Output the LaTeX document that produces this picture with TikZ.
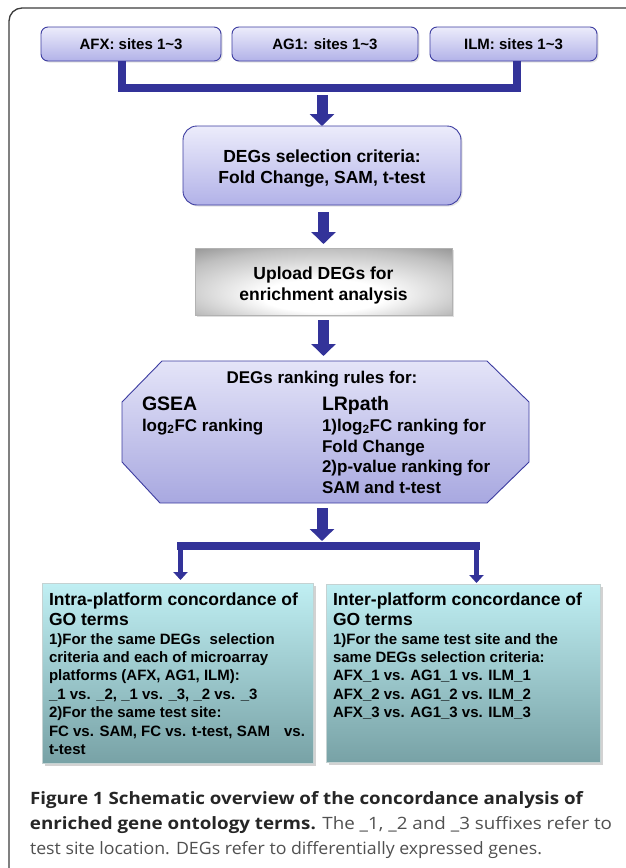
\documentclass[tikz,border=0pt]{standalone}
\usepackage{fontspec}
\usepackage{graphicx}
\setmainfont{Liberation Sans}
\newfontfamily\capfont{Open Sans}
\usetikzlibrary{arrows.meta,shadows,calc}
\definecolor{arr}{RGB}{51,51,153}
\definecolor{lavT}{RGB}{236,236,251}
\definecolor{lavB}{RGB}{178,178,232}
\definecolor{lavD}{RGB}{60,60,160}
\definecolor{octT}{RGB}{228,228,248}
\definecolor{octB}{RGB}{168,168,224}
\definecolor{cyT}{RGB}{192,239,243}
\definecolor{cyB}{RGB}{120,162,166}
\definecolor{cyD}{RGB}{196,210,210}
\definecolor{capB}{RGB}{38,38,38}
\definecolor{capR}{RGB}{80,80,80}
\definecolor{frame}{RGB}{60,60,60}
\pgfdeclareradialshading{bevel}{\pgfpoint{0bp}{-14bp}}{color(0bp)=(white); color(12bp)=(white); color(30bp)=(gray!50); color(50bp)=(black!65)}
\newcommand\fsz[2]{\fontsize{#1}{#2}\selectfont}
\tikzset{
  box/.style={draw=lavD, line width=0.9pt, top color=lavT, bottom color=lavB,
    drop shadow={opacity=0.22, shadow xshift=1.5pt, shadow yshift=-1.5pt}},
  topbox/.style={box, rounded corners=7pt, minimum height=34pt, font=\fsz{15}{18}\bfseries},
  lbl/.style={font=\fsz{17.5}{20.6}\bfseries, align=center},
  greybox/.style={draw=gray!60, line width=0.6pt, shading=bevel,
    drop shadow={opacity=0.25, shadow xshift=1.5pt, shadow yshift=-1.5pt}},
  cyanbox/.style={draw=cyD, line width=0.8pt, top color=cyT, bottom color=cyB,
    drop shadow={opacity=0.35, shadow xshift=2.5pt, shadow yshift=-2.5pt}},
  octtxt/.style={font=\fsz{17}{20}\bfseries, anchor=base west},
  head/.style={font=\fsz{17.5}{20}\bfseries, anchor=base west},
  body/.style={font=\fsz{15}{18}\bfseries, anchor=base west},
  captxt/.style={anchor=base west, font=\capfont\fsz{17}{20}},
  bar/.style={draw=arr, line width=8pt, line cap=butt, line join=miter},
  bigarrow/.style={draw=arr, line width=11pt, -{Triangle[width=24pt,length=12pt]}},
  thinarrow/.style={draw=arr, line width=5.5pt, -{Triangle[width=14pt,length=8pt]}},
}
\begin{document}
\begin{tikzpicture}[x=1pt,y=-1pt, every node/.style={inner sep=0pt, outer sep=0pt}]
\useasboundingbox (0,0) rectangle (625,868);
\fill[white] (0,0) rectangle (625,868);
\draw[line width=1.3pt, draw=frame, rounded corners=13pt] (9,900) -- (9,8) -- (660,8);

% top boxes
\node[topbox, minimum width=180pt] (afx) at (131,44) {AFX: sites 1\textasciitilde3};
\node[topbox, minimum width=186pt] (ag1) at (325,44) {AG1: sites 1\textasciitilde3};
\node[topbox, minimum width=167pt] (ilm) at (513.5,44) {ILM: sites 1\textasciitilde3};

\coordinate (hl) at (122,88);
\coordinate (hr) at (517,88);
\coordinate (hm) at (322,95);
\draw[bar] (afx.south -| hl) -- (hl) -- (hr) -- (ilm.south -| hr);

% DEGs selection
\node[box, rounded corners=14pt, minimum width=278pt, minimum height=79pt] (degs) at (322,165.5) {};
\node[lbl] (degst) at ([yshift=-3pt]degs.center) {DEGs selection criteria:\\Fold Change, SAM, t-test};
\draw[bigarrow] (hm) -- (degs.north);

% Upload
\node[greybox, minimum width=257pt, minimum height=67pt] (upload) at (323.5,281.5) {};
\node[lbl, font=\fsz{17.5}{21}\bfseries] (uploadt) at ([yshift=-3.5pt]upload.center) {Upload DEGs for\\enrichment analysis};
\draw[bigarrow, shorten <=7pt, shorten >=4pt] (degs.south -| upload.north) -- (upload.north);

% Octagon
\node[minimum width=407pt, minimum height=142pt] (oct) at (325.5,432) {};
\shadedraw[draw=lavD, line width=0.9pt, top color=octT, bottom color=octB]
  (162,361) -- (487,361) -- (529,402) -- (529,462) -- (487,503) -- (160,503) -- (122,462) -- (122,402) -- cycle;
\draw[bigarrow, shorten <=5pt, shorten >=5pt] (upload.south) -- (upload.south |- oct.north);
\node[font=\fsz{17}{20}\bfseries, anchor=base] (rank) at (322,383) {DEGs ranking rules for:};
\node[octtxt, font=\fsz{19.5}{22}\bfseries] (gsea) at (142,410) {GSEA};
\node[octtxt] (gsea1) at (142,431) {log\textsubscript{2}FC ranking};
\node[octtxt, font=\fsz{19.5}{22}\bfseries] (lrp) at (322,410) {LRpath};
\node[octtxt] (lrp1) at (322,431) {1)log\textsubscript{2}FC ranking for};
\node[octtxt] (lrp2) at (322,452) {Fold Change};
\node[octtxt] (lrp3) at (322,472) {2)p-value ranking for};
\node[octtxt] (lrp4) at (322,493) {SAM and t-test};

% split
\coordinate (sm) at (322,546);
\coordinate (sl) at (177,546);
\coordinate (sr) at (480,546);
\draw[bigarrow, shorten <=5pt, shorten >=5pt] (sm |- oct.south) -- (sm);
\draw[bar] (sl) -- (sr);

% bottom boxes
\node[cyanbox, minimum width=271pt, minimum height=180pt] (intra) at (177.5,673) {};
\node[cyanbox, minimum width=274pt, minimum height=178pt] (inter) at (463,673) {};
\coordinate (al) at (180.5,546);
\coordinate (ar) at (476.5,546);
\draw[thinarrow, shorten >=3pt] (al) -- (al |- intra.north);
\draw[thinarrow, shorten >=1pt] (ar) -- (ar |- inter.north);

\node[head] (h1) at (49,605) {Intra-platform concordance of};
\node[head] (h2) at (49,625) {GO terms};
\foreach \t [count=\i from 0] in {{1)For the same DEGs\hspace{9pt}selection},
  {criteria and each of microarray},
  {platforms (AFX, AG1, ILM):},
  {\_1 vs. \_2, \_1 vs. \_3, \_2 vs. \_3},
  {2)For the same test site:},
  {FC vs. SAM, FC vs. t-test, SAM\hspace{14pt}vs.},
  {t-test}}
  \node[body] (l\i) at (49,{644+18.45*\i}) {\t};

\node[head] (k1) at (333,605) {Inter-platform concordance of};
\node[head] (k2) at (333,625) {GO terms};
\foreach \t [count=\i from 0] in {{1)For the same test site and the},
  {same DEGs selection criteria:},
  {AFX\_1 vs. AG1\_1 vs. ILM\_1},
  {AFX\_2 vs. AG1\_2 vs. ILM\_2},
  {AFX\_3 vs. AG1\_3 vs. ILM\_3}}
  \node[body] (r\i) at (333,{644+18.45*\i}) {\t};

% caption
\node[captxt] (cap1) at (30,804) {\resizebox{553pt}{\height}{\bfseries\color{capB}Figure 1 Schematic overview of the concordance analysis of}};
\node[captxt] (cap2) at (30,829) {\resizebox{582pt}{\height}{{\bfseries\color{capB}enriched gene ontology terms.} {\color{capR}The \_1, \_2 and \_3 suffixes refer to}}};
\node[captxt] (cap3) at (30,854) {\resizebox{512pt}{\height}{\color{capR}test site location. DEGs refer to differentially expressed genes.}};
\end{tikzpicture}
\end{document}
